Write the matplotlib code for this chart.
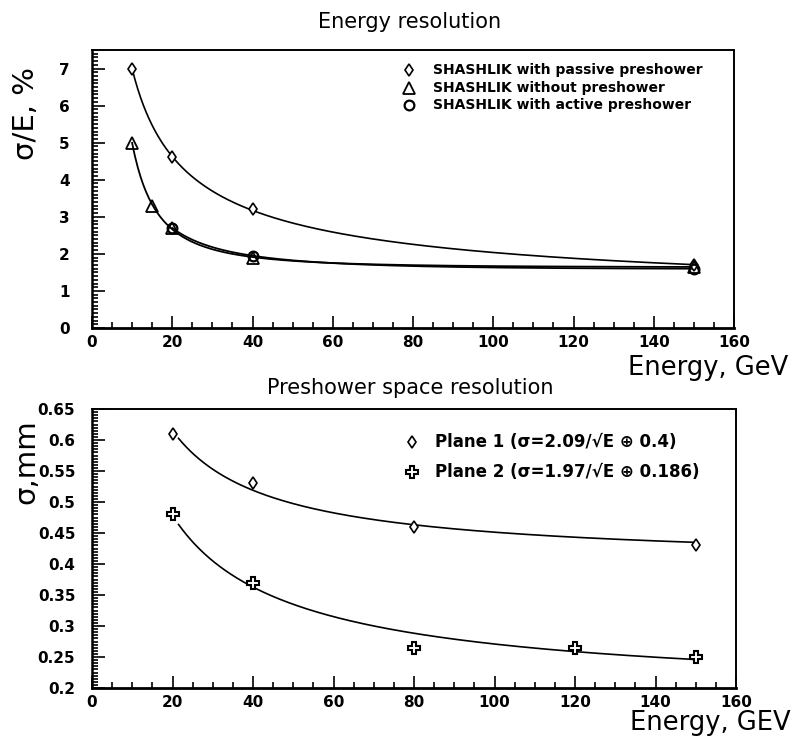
import numpy as np
import matplotlib
matplotlib.use("Agg")
import matplotlib.pyplot as plt
from matplotlib.ticker import MultipleLocator, FuncFormatter

# ---------------- data ----------------
E_passive = [10, 20, 40, 150]
res_passive = [7.0, 4.6, 3.2, 1.7]

E_without = [10, 15, 20, 40, 150]
res_without = [5.0, 3.3, 2.7, 1.9, 1.65]

E_active = [20, 40, 150]
res_active = [2.7, 1.95, 1.6]

E_plane1 = [20, 40, 80, 150]
sig_plane1 = [0.61, 0.53, 0.46, 0.43]
fit_plane1 = (2.09, 0.4)

E_plane2 = [20, 40, 80, 120, 150]
sig_plane2 = [0.48, 0.37, 0.265, 0.265, 0.25]
fit_plane2 = (1.97, 0.186)

labels_top = ["SHASHLIK with passive preshower",
              "SHASHLIK without preshower",
              "SHASHLIK with active preshower"]
labels_bot = ["Plane 1 (\u03c3=2.09/\u221aE \u2295 0.4)",
              "Plane 2 (\u03c3=1.97/\u221aE \u2295 0.186)"]

FAM = ["DejaVu Sans"]
TICKFONT = dict(family=FAM, weight="bold", size=11)
LEGFONT_TOP = dict(family=FAM, weight="bold", size=10)
LEGFONT_BOT = dict(family=FAM, weight="bold", size=12)
TITLEFONT = dict(family=FAM, size=15)
XLABFONT = dict(family=FAM, size=18.5)
YLABFONT = dict(family=FAM, size=21)

W, H = 796, 738
fig = plt.figure(figsize=(W / 100, H / 100), dpi=100)

def fr(x0, y0, x1, y1):
    return [x0 / W, 1 - y1 / H, (x1 - x0) / W, (y1 - y0) / H]

ax1 = fig.add_axes(fr(92, 50, 734, 328))
ax2 = fig.add_axes(fr(92, 409, 736, 688))

def style(ax, ymaj, ymin, ypad):
    ax.set_xlim(0, 160)
    ax.xaxis.set_major_locator(MultipleLocator(20))
    ax.xaxis.set_minor_locator(MultipleLocator(5))
    ax.yaxis.set_major_locator(MultipleLocator(ymaj))
    ax.yaxis.set_minor_locator(MultipleLocator(ymin))
    ax.tick_params(which="both", direction="in", top=False, right=False,
                   width=1.2, color="black")
    ax.tick_params(which="major", length=9)
    ax.tick_params(which="minor", length=4.5)
    ax.tick_params(axis="x", which="major", pad=5)
    ax.tick_params(axis="y", which="major", pad=ypad)
    for s in ax.spines.values():
        s.set_linewidth(1.4)
    ax.spines["bottom"].set_linewidth(2.0)
    ax.spines["left"].set_linewidth(1.8)

def font_ticks(ax):
    for lab in ax.get_xticklabels() + ax.get_yticklabels():
        lab.set_fontfamily(TICKFONT["family"])
        lab.set_fontweight(TICKFONT["weight"])
        lab.set_fontsize(TICKFONT["size"])

def fit_curve(E, y, e0, e1, deg=2):
    E = np.asarray(E, float)
    s = 1 / np.sqrt(E)
    p = np.polyfit(s, np.asarray(y, float), deg)
    ee = np.linspace(e0, e1, 400)
    return ee, np.polyval(p, 1 / np.sqrt(ee))

# ---------------- top panel ----------------
ax1.set_ylim(0, 7.5)

x, y = fit_curve(E_passive, res_passive, 10, 150)
ax1.plot(x, y, color="black", lw=1.2)
x, y = fit_curve(E_without, res_without, 10, 150, deg=3)
ax1.plot(x, y, color="black", lw=1.3)
x, y = fit_curve(E_active, res_active, 20, 150)
ax1.plot(x, y, color="black", lw=1.3)

mk_pas = dict(marker="d", ms=6, mfc="white", mec="black", mew=1.2, ls="none")
mk_wo = dict(marker="^", ms=8, mfc="none", mec="black", mew=1.3, ls="none")
mk_act = dict(marker="o", ms=7, mfc="none", mec="black", mew=1.6, ls="none")
ax1.plot(E_passive, res_passive, **mk_pas)
ax1.plot(E_without, res_without, **mk_wo)
ax1.plot(E_active, res_active, **mk_act)

leg_y = [0.928, 0.863, 0.802]
for yy, mk, lab in zip(leg_y, [mk_pas, mk_wo, mk_act], labels_top):
    ax1.plot([0.494], [yy], transform=ax1.transAxes, clip_on=False, **mk)
    ax1.text(0.531, yy, lab, transform=ax1.transAxes, va="center", ha="left",
             **LEGFONT_TOP)

style(ax1, 1, 0.1, 16)
font_ticks(ax1)
fig.text(410 / W, 1 - 22 / H, "Energy resolution", ha="center", va="center",
         **TITLEFONT)
fig.text(788 / W, 1 - 375 / H, "Energy, GeV", ha="right", va="baseline",
         **XLABFONT)
fig.text(26 / W, 1 - 113 / H, "\u03c3/E, %", ha="center", va="center",
         rotation=90, **YLABFONT)

# ---------------- bottom panel ----------------
ax2.set_ylim(0.2, 0.65)

for (a, b), e0 in [(fit_plane1, 21.5), (fit_plane2, 21.5)]:
    ee = np.linspace(e0, 150, 400)
    ax2.plot(ee, np.sqrt(a ** 2 / ee + b ** 2), color="black", lw=1.2)

mk_p1 = dict(marker="d", ms=6, mfc="white", mec="black", mew=1.2, ls="none")
mk_p2 = dict(marker="P", ms=9, mfc="white", mec="black", mew=1.5, ls="none")
ax2.plot(E_plane1, sig_plane1, **mk_p1)
ax2.plot(E_plane2, sig_plane2, **mk_p2)

leg_y2 = [0.882, 0.774]
for yy, mk, lab in zip(leg_y2, [mk_p1, mk_p2], labels_bot):
    ax2.plot([0.497], [yy], transform=ax2.transAxes, clip_on=False, **mk)
    ax2.text(0.533, yy, lab, transform=ax2.transAxes, va="center", ha="left",
             **LEGFONT_BOT)

style(ax2, 0.05, 0.005, 12)
ax2.yaxis.set_major_formatter(FuncFormatter(
    lambda v, p: ("%.2f" % v).rstrip("0").rstrip(".")))
font_ticks(ax2)

fig.text(410 / W, 1 - 388 / H, "Preshower space resolution", ha="center",
         va="center", **TITLEFONT)
fig.text(791 / W, 1 - 736 / H, "Energy, GEV", ha="right", va="bottom",
         **XLABFONT)
fig.text(26 / W, 1 - 462 / H, "\u03c3,mm", ha="center", va="center",
         rotation=90, **YLABFONT)

fig.savefig("out.png", dpi=100, facecolor="white")
